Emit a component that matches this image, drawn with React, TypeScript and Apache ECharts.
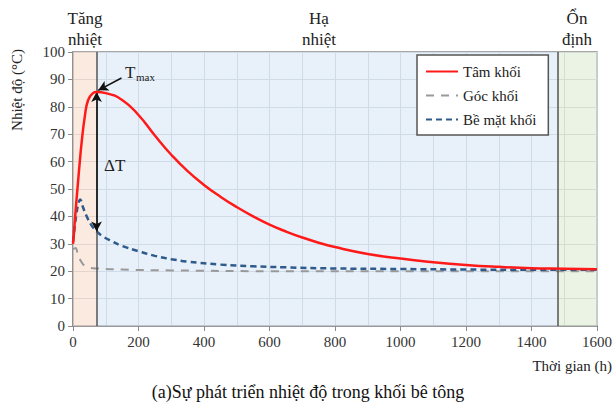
import React, { useEffect, useRef } from "react";
import * as echarts from "echarts";

const FONT = "Liberation Serif";

// Tâm khối (centre)
const coreTime = [0, 2, 5, 10, 15, 20, 26, 36, 46, 61, 72, 100, 150, 200, 250, 300, 350, 400, 450, 500, 550, 600, 650, 700, 750, 800, 900, 1000, 1100, 1200, 1300, 1400, 1500, 1600];
const coreTemp = [30, 32.5, 37.4, 45, 52, 59, 66.6, 76.4, 82.4, 85, 85.4, 85, 82.5, 77, 69.5, 62.5, 56.5, 51.5, 47.2, 43.4, 40, 37, 34.5, 32.3, 30.4, 28.8, 26.3, 24.6, 23.3, 22.3, 21.6, 21.1, 20.9, 20.7];

// Góc khối (corner)
const cornerTime = [0, 8, 15, 25, 35, 50, 72, 150, 300, 600, 1000, 1600];
const cornerTemp = [28, 28.5, 26, 23.5, 22, 21.3, 21, 20.6, 20.3, 20, 20, 20];

// Bề mặt khối (surface)
const surfTime = [0, 5, 10, 15, 22, 30, 40, 55, 72, 90, 112, 150, 200, 250, 300, 350, 450, 550, 650, 800, 1000, 1200, 1400, 1600];
const surfTemp = [30.6, 36, 40.5, 44, 46.2, 43.5, 40.5, 37, 34.5, 32.8, 31.3, 29.2, 27.3, 25.6, 24.4, 23.5, 22.4, 21.8, 21.4, 21, 20.8, 20.6, 20.5, 20.5];

const phaseBounds = [0, 72, 1480, 1600];
const phaseColors = ["rgba(248,220,202,0.6)", "rgba(217,230,245,0.6)", "rgba(222,235,210,0.6)"];
const xTicks = { min: 0, max: 1600, interval: 200 };
const yTicks = { min: 0, max: 100, interval: 10 };
const tmaxPoint = [72, 85.4];
const deltaBottom = 34.5;

const zip = (a: number[], b: number[]) => a.map((v, i) => [v, b[i]]);

export default function App() {
  const ref = useRef<HTMLDivElement>(null);
  useEffect(() => {
    const chart = echarts.init(ref.current!, null, { renderer: "svg" });
    const txt = { fontFamily: FONT, fill: "#222" };
    const gridColor = "#c3cad4";
    chart.setOption({
      animation: false,
      textStyle: { fontFamily: FONT },
      grid: {
        left: 73, top: 52, right: 19, bottom: 81,
        show: true, borderColor: "#8a8a8a", borderWidth: 1.5, backgroundColor: "transparent",
      },
      xAxis: {
        type: "value", ...xTicks,
        axisLine: { show: true, lineStyle: { color: "#8a8a8a", width: 1.5 } },
        axisTick: { show: true, length: 5, lineStyle: { color: "#8a8a8a" } },
        axisLabel: { fontSize: 15, color: "#333", margin: 8, fontFamily: FONT, formatter: (v: number) => String(v) },
        splitLine: { show: true, lineStyle: { color: gridColor, width: 1 } },
        minorTick: { show: false, splitNumber: 2 },
        minorSplitLine: { show: true, lineStyle: { color: gridColor, width: 1 } },
      },
      yAxis: {
        type: "value", ...yTicks,
        axisLine: { show: true, lineStyle: { color: "#8a8a8a", width: 1.5 } },
        axisTick: { show: true, length: 5, lineStyle: { color: "#8a8a8a" } },
        axisLabel: { fontSize: 15, color: "#333", margin: 8, fontFamily: FONT, formatter: (v: number) => String(v) },
        splitLine: { show: true, lineStyle: { color: gridColor, width: 1 } },
      },
      legend: {
        data: ["Tâm khối", "Góc khối", "Bề mặt khối"],
        left: 417, top: 55, orient: "vertical",
        backgroundColor: "#fff", borderColor: "#555", borderWidth: 1.5, borderRadius: 0,
        padding: [9, 12, 8, 8], itemGap: 9, itemWidth: 32, itemHeight: 14,
        itemStyle: { opacity: 0 },
        textStyle: { fontSize: 15, color: "#222", fontFamily: FONT },
      },
      series: [
        {
          name: "bg", type: "line", data: [], z: 1, silent: true,
          markArea: {
            silent: true,
            data: phaseColors.map((c, i) => [
              { xAxis: phaseBounds[i], itemStyle: { color: c } },
              { xAxis: phaseBounds[i + 1] },
            ]),
          },
        },
        {
          name: "lines", type: "line", data: [], z: 2, silent: true,
          markLine: {
            silent: true, symbol: "none", label: { show: false },
            lineStyle: { color: "#555", width: 1.5, type: "solid" },
            data: [{ xAxis: phaseBounds[1] }, { xAxis: phaseBounds[2] }],
          },
        },
        {
          name: "Góc khối", type: "line", data: zip(cornerTime, cornerTemp),
          smooth: 0.4, symbol: "none", z: 3,
          lineStyle: { color: "#999", width: 2, type: [8, 7] },
          itemStyle: { color: "#999" },
        },
        {
          name: "Bề mặt khối", type: "line", data: zip(surfTime, surfTemp),
          smooth: 0.4, symbol: "none", z: 4,
          lineStyle: { color: "#2e5a8c", width: 2.5, type: [6, 4] },
          itemStyle: { color: "#2e5a8c" },
        },
        {
          name: "Tâm khối", type: "line", data: zip(coreTime, coreTemp),
          smooth: 0.5, symbol: "none", z: 5,
          lineStyle: { color: "#ff1a1a", width: 2.5 },
          itemStyle: { color: "#ff1a1a" },
        },
        {
          name: "annot", type: "line", data: [], z: 6, silent: true,
          markLine: {
            silent: true, label: { show: false },
            lineStyle: { color: "#111", width: 1.5, type: "solid" },
            symbolSize: [8, 10],
            data: [
              [{ coord: [tmaxPoint[0], tmaxPoint[1]], symbol: "arrow" }, { coord: [tmaxPoint[0], deltaBottom], symbol: "arrow" }],
              [{ coord: [148, 90.5], symbol: "none" }, { coord: [tmaxPoint[0] + 5, tmaxPoint[1] + 0.6], symbol: "arrow" }],
            ],
          },
        },
      ],
      graphic: [
        { type: "text", z: 100, x: 85, y: 18, style: { ...txt, text: "Tăng", fontSize: 17, align: "center", verticalAlign: "middle" } },
        { type: "text", z: 100, x: 85, y: 39, style: { ...txt, text: "nhiệt", fontSize: 17, align: "center", verticalAlign: "middle" } },
        { type: "text", z: 100, x: 319, y: 18, style: { ...txt, text: "Hạ", fontSize: 17, align: "center", verticalAlign: "middle" } },
        { type: "text", z: 100, x: 319, y: 39, style: { ...txt, text: "nhiệt", fontSize: 17, align: "center", verticalAlign: "middle" } },
        { type: "text", z: 100, x: 577, y: 18, style: { ...txt, text: "Ổn", fontSize: 17, align: "center", verticalAlign: "middle" } },
        { type: "text", z: 100, x: 577, y: 39, style: { ...txt, text: "định", fontSize: 17, align: "center", verticalAlign: "middle" } },
        { type: "text", z: 100, x: 125, y: 72, style: { ...txt, text: "T", fontSize: 17, verticalAlign: "middle" } },
        { type: "text", z: 100, x: 136, y: 77, style: { ...txt, text: "max", fontSize: 11, verticalAlign: "middle" } },
        { type: "text", z: 100, x: 104, y: 165, style: { ...txt, text: "ΔT", fontSize: 17, verticalAlign: "middle" } },
        { type: "text", z: 100, x: 17, y: 90, rotation: Math.PI / 2, style: { ...txt, text: "Nhiệt độ (°C)", fontSize: 15, align: "center", verticalAlign: "middle" } },
        { type: "text", z: 100, x: 612, y: 366, style: { ...txt, text: "Thời gian (h)", fontSize: 15, align: "right", verticalAlign: "middle" } },
        { type: "text", z: 100, x: 308, y: 392, style: { ...txt, text: "(a)Sự phát triển nhiệt độ trong khối bê tông", fontSize: 18, align: "center", verticalAlign: "middle", fill: "#111" } },
      ],
    });
    return () => chart.dispose();
  }, []);
  return <div ref={ref} style={{ width: 616, height: 407, position: "absolute", left: 0, top: 0 }} />;
}
